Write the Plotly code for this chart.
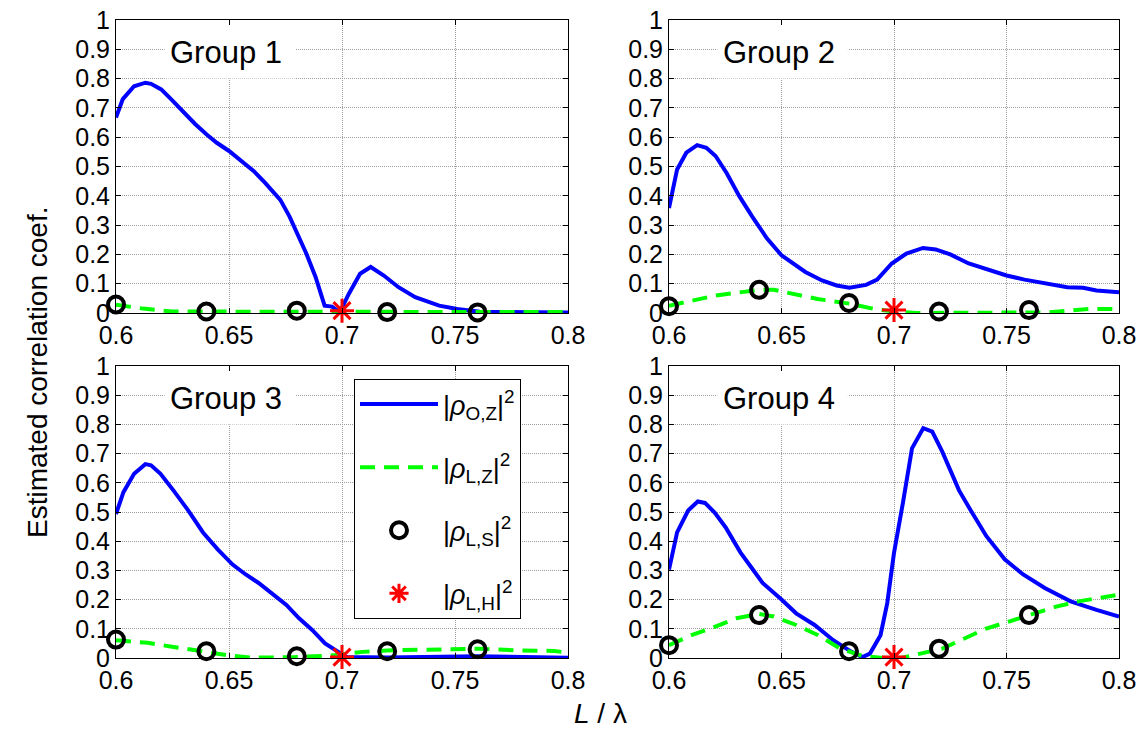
import plotly.graph_objects as go
from plotly.subplots import make_subplots

# ---- data: |rho_O,Z|^2 (solid blue) per group ----
g1_oz_x = [0.600, 0.603, 0.608, 0.613, 0.6155, 0.620, 0.625, 0.630, 0.635, 0.640, 0.6446,
           0.650, 0.6547, 0.661, 0.666, 0.6727, 0.6768, 0.6809, 0.6842, 0.6883, 0.6923,
           0.6956, 0.699, 0.703, 0.708, 0.7127, 0.7185, 0.725, 0.7324, 0.743, 0.751, 0.761,
           0.780, 0.800]
g1_oz_y = [0.667, 0.73, 0.774, 0.786, 0.782, 0.763, 0.725, 0.685, 0.645, 0.61, 0.581,
           0.553, 0.524, 0.484, 0.444, 0.386, 0.329, 0.26, 0.203, 0.123, 0.025,
           0.022, 0.002, 0.065, 0.134, 0.157, 0.128, 0.088, 0.054, 0.025, 0.014, 0.004,
           0.002, 0.002]

g2_oz_x = [0.600, 0.6036, 0.6077, 0.6125, 0.6166, 0.6207, 0.6256, 0.6313, 0.637, 0.6435,
           0.650, 0.655, 0.6606, 0.668, 0.6745, 0.6802, 0.6876, 0.6925, 0.699, 0.7055,
           0.7129, 0.7185, 0.725, 0.7332, 0.7413, 0.750, 0.758, 0.7675, 0.777, 0.784,
           0.790, 0.800]
g2_oz_y = [0.358, 0.49, 0.547, 0.573, 0.564, 0.536, 0.478, 0.398, 0.329, 0.255,
           0.197, 0.169, 0.14, 0.111, 0.094, 0.086, 0.096, 0.114, 0.169, 0.203,
           0.222, 0.217, 0.2, 0.169, 0.148, 0.128, 0.114, 0.1, 0.088, 0.086,
           0.077, 0.071]

g3_oz_x = [0.600, 0.6033, 0.608, 0.613, 0.6155, 0.6197, 0.6254, 0.632, 0.6385, 0.645,
           0.6516, 0.6574, 0.6631, 0.6697, 0.6754, 0.681, 0.6868, 0.6925, 0.697, 0.702,
           0.720, 0.740, 0.760, 0.780, 0.800]
g3_oz_y = [0.493, 0.568, 0.631, 0.664, 0.66, 0.631, 0.574, 0.505, 0.43, 0.372,
           0.32, 0.286, 0.257, 0.217, 0.182, 0.136, 0.096, 0.05, 0.026, 0.003,
           0.002, 0.005, 0.006, 0.003, 0.001]

g4_oz_x = [0.600, 0.6036, 0.6085, 0.6128, 0.616, 0.6203, 0.6252, 0.6318, 0.6367, 0.6416,
           0.650, 0.6565, 0.6647, 0.673, 0.6811, 0.686, 0.6893, 0.694, 0.697, 0.700,
           0.704, 0.708, 0.713, 0.717, 0.7215, 0.7289, 0.7346, 0.741, 0.7492, 0.7574,
           0.767, 0.7785, 0.790, 0.800]
g4_oz_y = [0.303, 0.43, 0.505, 0.536, 0.531, 0.498, 0.447, 0.361, 0.309, 0.257,
           0.2, 0.153, 0.113, 0.061, 0.021, 0.003, 0.015, 0.078, 0.188, 0.36,
           0.533, 0.718, 0.787, 0.775, 0.706, 0.574, 0.499, 0.418, 0.338, 0.286,
           0.24, 0.194, 0.165, 0.142]

# ---- data: |rho_L,Z|^2 (dashed green) per group ----
g1_lz_x = [0.600, 0.612, 0.625, 0.650, 0.675, 0.700, 0.725, 0.750, 0.775, 0.800]
g1_lz_y = [0.028, 0.015, 0.005, 0.005, 0.006, 0.006, 0.004, 0.003, 0.003, 0.003]

g2_lz_x = [0.600, 0.621, 0.640, 0.6466, 0.666, 0.681, 0.691, 0.699, 0.710, 0.740,
           0.768, 0.787, 0.800]
g2_lz_y = [0.025, 0.06, 0.079, 0.079, 0.048, 0.031, 0.014, 0.006, 0.0, 0.0,
           0.002, 0.014, 0.014]

g3_lz_x = [0.600, 0.614, 0.6254, 0.640, 0.650, 0.660, 0.6795, 0.696, 0.709, 0.720,
           0.737, 0.761, 0.777, 0.794, 0.800]
g3_lz_y = [0.061, 0.052, 0.038, 0.021, 0.009, 0.001, 0.003, 0.009, 0.021, 0.026,
           0.029, 0.032, 0.026, 0.024, 0.018]

g4_lz_x = [0.600, 0.610, 0.6203, 0.630, 0.640, 0.6465, 0.6565, 0.6663, 0.6761, 0.686,
           0.694, 0.7036, 0.7117, 0.7215, 0.7313, 0.741, 0.7508, 0.7606, 0.7721, 0.782,
           0.7916, 0.800]
g4_lz_y = [0.044, 0.078, 0.107, 0.136, 0.151, 0.142, 0.113, 0.078, 0.032, 0.007,
           0.001, 0.001, 0.015, 0.032, 0.067, 0.101, 0.124, 0.147, 0.176, 0.194,
           0.207, 0.217]

# ---- data: |rho_L,S|^2 (open circles) and |rho_L,H|^2 (red star) ----
ls_x = [0.60, 0.64, 0.68, 0.72, 0.76]
g1_ls_y = [0.029, 0.005, 0.008, 0.003, 0.002]
g2_ls_y = [0.023, 0.079, 0.034, 0.005, 0.010]
g3_ls_y = [0.063, 0.023, 0.006, 0.023, 0.030]
g4_ls_y = [0.044, 0.147, 0.023, 0.032, 0.147]

lh_x = [0.70]
g1_lh_y = [0.008]
g2_lh_y = [0.010]
g3_lh_y = [0.003]
g4_lh_y = [0.003]

group_names = ["Group 1", "Group 2", "Group 3", "Group 4"]
legend_names = ["|<i>ρ</i><sub>O,Z</sub>|<sup>2</sup>",
                "|<i>ρ</i><sub>L,Z</sub>|<sup>2</sup>",
                "|<i>ρ</i><sub>L,S</sub>|<sup>2</sup>",
                "|<i>ρ</i><sub>L,H</sub>|<sup>2</sup>"]

x_ticks = [0.6, 0.65, 0.7, 0.75, 0.8]
y_ticks = [0, 0.1, 0.2, 0.3, 0.4, 0.5, 0.6, 0.7, 0.8, 0.9, 1]

groups = [
    (g1_oz_x, g1_oz_y, g1_lz_x, g1_lz_y, g1_ls_y, g1_lh_y),
    (g2_oz_x, g2_oz_y, g2_lz_x, g2_lz_y, g2_ls_y, g2_lh_y),
    (g3_oz_x, g3_oz_y, g3_lz_x, g3_lz_y, g3_ls_y, g3_lh_y),
    (g4_oz_x, g4_oz_y, g4_lz_x, g4_lz_y, g4_ls_y, g4_lh_y),
]

W, H = 1143, 729
FONT = "Liberation Sans, Arial, sans-serif"

fig = make_subplots(rows=2, cols=2)

# axes boxes in pixels (left, top, right, bottom)
boxes = [(116, 20, 568, 313), (669, 20, 1119, 313),
         (116, 366, 568, 658), (669, 366, 1119, 658)]
cells = [(1, 1), (1, 2), (2, 1), (2, 2)]

BLUE, GREEN, RED = "#0000FF", "#00FF00", "#FF0000"
GRID = dict(showgrid=True, gridcolor="#9c9c9c", griddash="1px,1px", gridwidth=1,
            showline=True, linecolor="black", linewidth=1, mirror="ticks",
            ticks="inside", ticklen=5, tickcolor="black", zeroline=False,
            automargin=False, tickfont=dict(family=FONT, size=25, color="black"))

for i, ((ozx, ozy, lzx, lzy, lsy, lhy), (r, c)) in enumerate(zip(groups, cells)):
    first = i == 0
    fig.add_trace(go.Scatter(x=ozx, y=ozy, mode="lines", name=legend_names[0],
                             line=dict(color=BLUE, width=4), legendgroup="oz",
                             showlegend=first), row=r, col=c)
    fig.add_trace(go.Scatter(x=lzx, y=lzy, mode="lines", name=legend_names[1],
                             line=dict(color=GREEN, width=4, dash="15px,9px"),
                             legendgroup="lz", showlegend=first), row=r, col=c)
    fig.add_trace(go.Scatter(x=ls_x, y=lsy, mode="markers", name=legend_names[2],
                             marker=dict(symbol="circle-open", size=16, color="black",
                                         line=dict(width=4, color="black")),
                             legendgroup="ls", showlegend=first, cliponaxis=False),
                  row=r, col=c)
    fig.add_trace(go.Scatter(x=lh_x, y=lhy, mode="markers", name=legend_names[3],
                             marker=dict(symbol="asterisk-open", size=20, color=RED,
                                         line=dict(width=3, color=RED)),
                             legendgroup="lh", showlegend=first, cliponaxis=False),
                  row=r, col=c)

    L, T, R, B = boxes[i]
    sfx = "" if i == 0 else str(i + 1)
    fig.layout["xaxis" + sfx].update(
        domain=[L / W, R / W], range=[0.6, 0.8], tickvals=x_ticks,
        ticktext=[f"{v:g}" for v in x_ticks], **GRID)
    fig.layout["yaxis" + sfx].update(
        domain=[(H - B) / H, (H - T) / H], range=[0, 1], tickvals=y_ticks,
        ticktext=[f"{v:g}" for v in y_ticks], **GRID)

    xref = "x" + sfx
    yref = "y" + sfx
    # white panel behind the group title, drawn over the grid but under the data
    fig.add_shape(type="rect", xref=xref, yref=yref, x0=0.6215, x1=0.6795,
                  y0=0.8, y1=1.0, fillcolor="white", line=dict(width=0),
                  layer="between")
    fig.add_annotation(x=0.6487, y=0.89, xref=xref, yref=yref, text=group_names[i],
                       showarrow=False, font=dict(family=FONT, size=31, color="black"))

fig.add_annotation(x=37 / W, y=(H - 372) / H, xref="paper", yref="paper",
                   xanchor="center", yanchor="middle",
                   text="Estimated correlation coef.", textangle=-90, showarrow=False,
                   font=dict(family=FONT, size=28, color="black"))
fig.add_annotation(x=600 / W, y=(H - 713) / H, xref="paper", yref="paper",
                   xanchor="center", yanchor="middle",
                   text="<i>L</i> / λ", showarrow=False,
                   font=dict(family=FONT, size=28, color="black"))

fig.update_layout(
    width=W, height=H, margin=dict(l=0, r=0, t=0, b=0),
    paper_bgcolor="white", plot_bgcolor="white",
    legend=dict(x=354 / W, y=(H - 379) / H, xanchor="left", yanchor="top",
                bgcolor="white", bordercolor="black", borderwidth=1,
                font=dict(family=FONT, size=27, color="black"),
                itemwidth=78, tracegroupgap=25, traceorder="grouped",
                entrywidth=190, entrywidthmode="pixels"),
)

fig.write_html("out.html")
